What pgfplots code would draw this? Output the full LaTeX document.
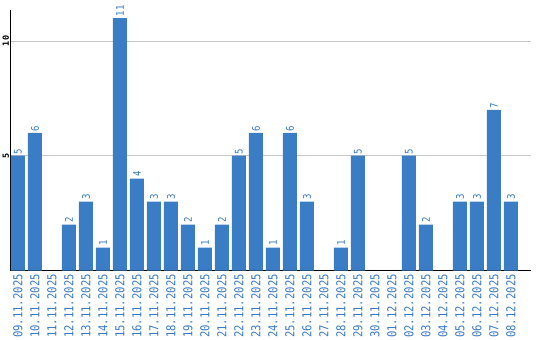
\documentclass[border=0pt]{standalone}
\usepackage{fontspec}
\setmainfont{DejaVu Sans Mono}
\newfontfamily\labfont[FakeStretch=0.86]{DejaVu Sans Mono}
\usepackage{pgfplots}
\pgfplotsset{compat=1.18}
\definecolor{barblue}{RGB}{59,125,196}
\definecolor{txtblue}{RGB}{58,122,196}
\definecolor{gridgray}{RGB}{200,200,200}
\begin{document}
\begin{tikzpicture}
\path[use as bounding box] (-10.5bp,-69.5bp) rectangle (529.5bp,270.5bp);
\begin{axis}[
  at={(0,0)}, anchor=south west,
  scale only axis,
  width=520.5bp, height=260.5bp,
  xmin=-0.44, xmax=30.18,
  ymin=0, ymax=11.35,
  axis x line*=bottom, axis y line*=left,
  axis line style={black, line width=1.2bp},
  ytick={5,10},
  ymajorgrids,
  grid style={gridgray, line width=0.8bp},
  major tick length=0pt,
  xtick={0,...,29},
  xticklabels={09.11.2025,10.11.2025,11.11.2025,12.11.2025,13.11.2025,14.11.2025,15.11.2025,16.11.2025,17.11.2025,18.11.2025,19.11.2025,20.11.2025,21.11.2025,22.11.2025,23.11.2025,24.11.2025,25.11.2025,26.11.2025,27.11.2025,28.11.2025,29.11.2025,30.11.2025,01.12.2025,02.12.2025,03.12.2025,04.12.2025,05.12.2025,06.12.2025,07.12.2025,08.12.2025},
  xticklabel style={rotate=90, anchor=east, font=\labfont\fontsize{12.3bp}{12bp}\selectfont, text=txtblue, inner sep=3.5bp},
  yticklabel style={rotate=90, anchor=south, font=\fontsize{8.5bp}{9bp}\selectfont\bfseries, text=black, inner sep=1.2bp},
  /pgf/number format/assume math mode=true,
  clip=false,
  ybar, bar width=14bp,
  nodes near coords,
  every node near coord/.append style={rotate=90, anchor=west, font=\labfont\fontsize{10.5bp}{10bp}\selectfont, text=txtblue, inner sep=1.5bp},
]
\addplot[fill=barblue, draw=none, bar shift=0pt] coordinates {
(0,5) (1,6) (3,2) (4,3) (5,1) (6,11) (7,4) (8,3) (9,3) (10,2)
(11,1) (12,2) (13,5) (14,6) (15,1) (16,6) (17,3) (19,1) (20,5)
(23,5) (24,2) (26,3) (27,3) (28,7) (29,3)
};
\end{axis}
\end{tikzpicture}
\end{document}
